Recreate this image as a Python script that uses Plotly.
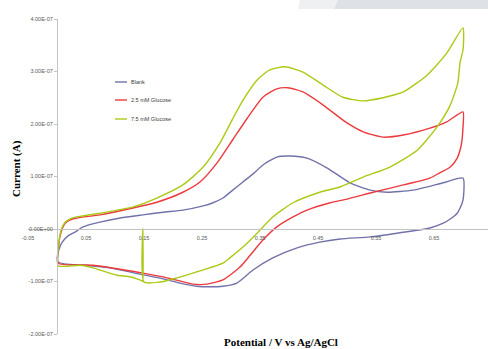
import numpy as np
import plotly.graph_objects as go

# ---- data (potential in V, current in units of 1e-7 A) ----
blank_v = [0.002, 0.003, 0.009, 0.019, 0.031, 0.045, 0.074, 0.109, 0.148, 0.183, 0.217, 0.252, 0.269,
           0.286, 0.303, 0.321, 0.338, 0.355, 0.379, 0.402, 0.431, 0.466, 0.505, 0.540, 0.569, 0.614,
           0.666, 0.700,
           0.700, 0.695, 0.690, 0.678, 0.666, 0.643, 0.586, 0.540, 0.488, 0.453, 0.414, 0.372, 0.338,
           0.310, 0.286, 0.264, 0.241, 0.212, 0.183, 0.143, 0.091, 0.048, 0.002]
blank_i = [-0.63, -0.40, -0.25, -0.13, -0.06, 0.04, 0.13, 0.21, 0.27, 0.32, 0.36, 0.44, 0.50,
           0.59, 0.74, 0.90, 1.05, 1.22, 1.37, 1.39, 1.35, 1.16, 0.88, 0.74, 0.70, 0.74,
           0.88, 0.97,
           0.55, 0.40, 0.30, 0.19, 0.11, 0.02, -0.08, -0.15, -0.19, -0.25, -0.36, -0.55, -0.78,
           -1.03, -1.09, -1.10, -1.09, -1.03, -0.95, -0.86, -0.74, -0.69, -0.63]

g25_v = [0.002, 0.003, 0.007, 0.014, 0.022, 0.034, 0.074, 0.131, 0.172, 0.217, 0.247, 0.276, 0.303,
         0.328, 0.355, 0.379, 0.398, 0.424, 0.459, 0.500, 0.528, 0.562, 0.597, 0.643, 0.672, 0.700,
         0.700, 0.697, 0.690, 0.678, 0.660, 0.643, 0.597, 0.545, 0.500, 0.471, 0.431, 0.407, 0.379,
         0.355, 0.333, 0.316, 0.286, 0.259, 0.234, 0.190, 0.148, 0.062, 0.002]
g25_i = [-0.65, -0.30, -0.06, 0.11, 0.17, 0.21, 0.27, 0.40, 0.51, 0.70, 0.90, 1.26, 1.70,
         2.11, 2.51, 2.67, 2.69, 2.61, 2.36, 2.02, 1.85, 1.75, 1.79, 1.92, 2.04, 2.23,
         1.94, 1.60, 1.35, 1.18, 1.07, 0.97, 0.84, 0.70, 0.57, 0.50, 0.36, 0.23, 0.04,
         -0.21, -0.50, -0.72, -0.97, -1.05, -1.05, -0.93, -0.84, -0.69, -0.65]

g75_v = [0.002, 0.003, 0.007, 0.014, 0.022, 0.034, 0.074, 0.131, 0.172, 0.217, 0.252, 0.281, 0.302,
         0.321, 0.345, 0.367, 0.393, 0.424, 0.459, 0.493, 0.528, 0.562, 0.597, 0.638, 0.672, 0.700,
         0.700, 0.695, 0.691, 0.678, 0.655, 0.621, 0.574, 0.528, 0.488, 0.453, 0.407, 0.372, 0.345,
         0.321, 0.298, 0.286, 0.252, 0.207, 0.178, 0.150, 0.148, 0.148, 0.147, 0.126, 0.103, 0.062,
         0.040, 0.002]
g75_i = [-0.70, -0.30, -0.02, 0.13, 0.19, 0.23, 0.30, 0.42, 0.59, 0.84, 1.18, 1.64, 2.08,
         2.46, 2.84, 3.03, 3.09, 2.99, 2.74, 2.51, 2.44, 2.50, 2.61, 2.93, 3.35, 3.83,
         3.41, 3.18, 2.78, 2.36, 1.94, 1.50, 1.18, 0.99, 0.80, 0.70, 0.50, 0.23, -0.08,
         -0.34, -0.55, -0.65, -0.78, -0.93, -1.01, -1.01, 0.0, -1.00, -0.99, -0.91, -0.88, -0.74,
         -0.69, -0.70]

series_names = ["Blank", "2.5 mM Glucose", "7.5 mM Glucose"]
series_colors = ["#7272AA", "#EC3A3E", "#AACA16"]

y_tickvals = [-2e-7, -1e-7, 0, 1e-7, 2e-7, 3e-7, 4e-7]
y_ticktext = ["-2.00E-07", "-1.00E-07", "0.00E+00", "1.00E-07", "2.00E-07", "3.00E-07", "4.00E-07"]
x_tickvals = [-0.05, 0.05, 0.15, 0.25, 0.35, 0.45, 0.55, 0.65, 0.75]
x_ticktext = ["-0.05", "0.05", "0.15", "0.25", "0.35", "0.45", "0.55", "0.65", "0.75"]

SCALE = 1e-7
data = [(blank_v, blank_i), (g25_v, g25_i), (g75_v, g75_i)]

fig = go.Figure()
for (v, i), name, col in zip(data, series_names, series_colors):
    fig.add_trace(go.Scatter(x=v, y=np.array(i) * SCALE, mode="lines", name=name,
                             line=dict(color=col, width=1.4, shape="spline", smoothing=0.6),
                             showlegend=False, hoverinfo="skip"))

W, H = 488, 349
ml, mr, mt, mb = 28, 0, 19, 15
pw, ph = W - ml - mr, H - mt - mb
def px(x):
    return (x - ml) / pw
def py(y):
    return (H - mb - y) / ph

axis_col = "#C3C3C3"
tick_font = dict(family="Liberation Sans, Arial, sans-serif", size=5.5, color="#595959")

fig.update_layout(
    width=W, height=H,
    margin=dict(l=ml, r=mr, t=mt, b=mb),
    paper_bgcolor="white", plot_bgcolor="white",
    xaxis=dict(range=[-0.05, -0.05 + pw / 580.0], domain=[0, 1], anchor="free", position=1/3,
               showgrid=False, zeroline=False, showline=True, linecolor=axis_col, linewidth=1.3,
               tickmode="array", tickvals=x_tickvals, ticktext=x_ticktext,
               ticks="", ticklabelstandoff=3, tickfont=tick_font),
    yaxis=dict(range=[-2e-7, 4e-7], domain=[0, 1], anchor="free", position=px(57),
               showgrid=False, zeroline=False, showline=True, linecolor=axis_col, linewidth=1.3,
               tickmode="array", tickvals=y_tickvals, ticktext=y_ticktext,
               ticks="outside", ticklen=3, tickcolor=axis_col, tickfont=tick_font),
    showlegend=False,
)

# faint header band at top right
fig.add_shape(type="path", xref="paper", yref="paper",
              path=f"M {px(300)},{py(0)} L {px(338)},{py(0)} L {px(334)},{py(9)} L {px(298)},{py(9)} Z",
              fillcolor="#EEF0F2", line=dict(width=0), layer="below")
fig.add_shape(type="path", xref="paper", yref="paper",
              path=f"M {px(338)},{py(0)} L {px(488)},{py(0)} L {px(488)},{py(9)} L {px(334)},{py(9)} Z",
              fillcolor="#DEE1E5", line=dict(width=0), layer="below")

# legend (manual, small)
leg_rows = [82, 100, 119]
for name, col, yy in zip(series_names, series_colors, leg_rows):
    fig.add_shape(type="line", xref="paper", yref="paper",
                  x0=px(115), x1=px(127), y0=py(yy), y1=py(yy),
                  line=dict(color=col, width=1.4))
    fig.add_annotation(xref="paper", yref="paper", x=px(128.5), y=py(yy), text=name,
                       showarrow=False, xanchor="left", yanchor="middle",
                       font=dict(family="Liberation Sans, Arial, sans-serif", size=5.5, color="#404040"))

title_font = dict(family="Liberation Serif, Times New Roman, serif", size=11, color="black")
fig.add_annotation(xref="paper", yref="paper", x=px(281), y=py(342),
                   text="<b>Potential / V vs Ag/AgCl</b>", showarrow=False,
                   xanchor="center", yanchor="middle", font=title_font)
fig.add_annotation(xref="paper", yref="paper", x=px(16), y=py(169),
                   text="<b>Current (A)</b>", showarrow=False, textangle=-90,
                   xanchor="center", yanchor="middle", font=title_font)

fig.write_html("out.html", config={"displayModeBar": False},
               post_script="document.body.style.margin='0';document.body.style.overflow='hidden';")
